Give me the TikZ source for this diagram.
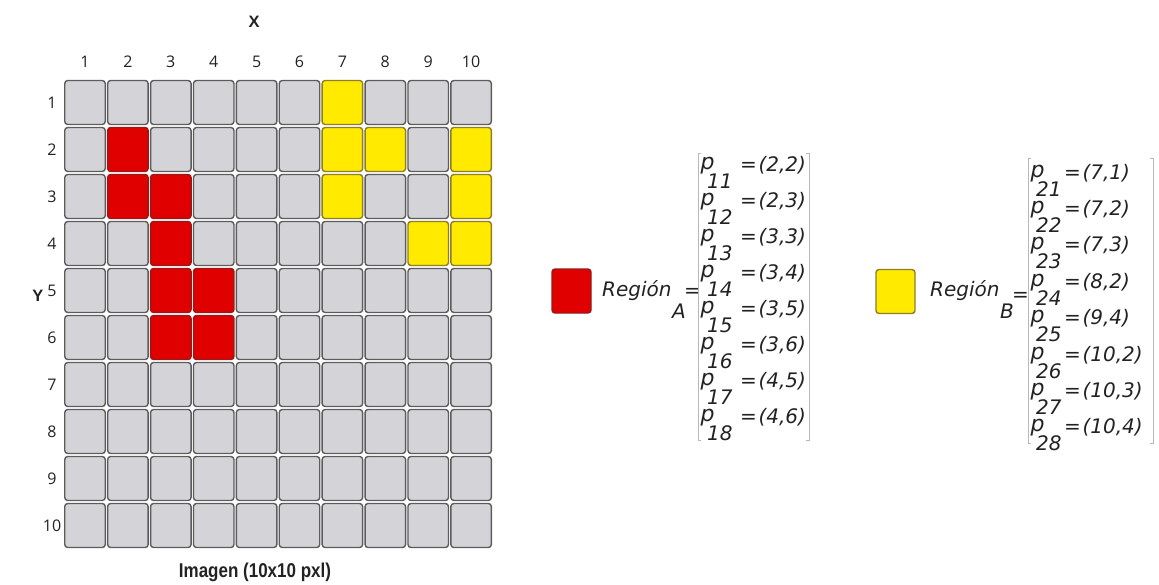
\documentclass[tikz,border=0pt]{standalone}
\usepackage{fontspec}
\setmainfont{Open Sans}
\newfontfamily\legfont{DejaVu Sans}
\newfontfamily\titlefont[FakeStretch=0.85]{Liberation Sans}
\newfontfamily\axfont{Liberation Sans}
\definecolor{cellgray}{HTML}{D4D4D8}
\definecolor{cellborder}{HTML}{5C5C5C}
\definecolor{cellred}{HTML}{E00000}
\definecolor{redborder}{HTML}{9A1818}
\definecolor{cellyellow}{HTML}{FFEA00}
\definecolor{yellowborder}{HTML}{8C7E2A}
\definecolor{bracketgray}{HTML}{B8B8B8}
\definecolor{txt}{HTML}{222222}
\tikzset{
  cell/.style={line width=1.4pt, rounded corners=3pt, minimum width=40.5pt, minimum height=44pt, inner sep=0pt},
  axlab/.style={font=\fontsize{16}{16}\selectfont, text=txt, inner sep=0pt},
  axletter/.style={font=\axfont\bfseries\fontsize{16.5}{16.5}\selectfont, text=txt, inner sep=0pt},
  axtitle/.style={font=\titlefont\bfseries\fontsize{20}{20}\selectfont, text=txt, inner sep=0pt},
  leg/.style={font=\legfont\itshape\fontsize{20}{20}\selectfont, text=txt, inner sep=0pt, anchor=base west},
  legp/.style={leg, font=\legfont\itshape\fontsize{22}{22}\selectfont},
  brk/.style={draw=bracketgray, line width=1pt},
}
\foreach \p in {2-2,2-3,3-3,3-4,3-5,3-6,4-5,4-6}{%
  \expandafter\xdef\csname cf-\p\endcsname{cellred}%
  \expandafter\xdef\csname cd-\p\endcsname{redborder}}
\foreach \p in {7-1,7-2,7-3,8-2,9-4,10-2,10-3,10-4}{%
  \expandafter\xdef\csname cf-\p\endcsname{cellyellow}%
  \expandafter\xdef\csname cd-\p\endcsname{yellowborder}}
\begin{document}
\begin{tikzpicture}[x=1pt,y=-1pt]
\useasboundingbox (0,0) rectangle (1159,584);
% grid
\foreach \c in {1,...,10}{\foreach \r in {1,...,10}{%
  \ifcsname cf-\c-\r\endcsname
    \edef\fc{\csname cf-\c-\r\endcsname}\edef\dc{\csname cd-\c-\r\endcsname}%
  \else
    \def\fc{cellgray}\def\dc{cellborder}%
  \fi
  \node[cell, fill=\fc, draw=\dc] (c-\c-\r) at ({85+(\c-1)*42.9},{102.5+(\r-1)*47}) {};
}}
% axis numbers
\foreach \c in {1,...,10}{\node[axlab] (xl-\c) at ({85+(\c-1)*42.9},62) {\c};}
\foreach \r in {1,...,10}{\node[axlab] (yl-\r) at (52,{102.5+(\r-1)*47}) {\r};}
\node[axletter] (X) at (254,22) {X};
\node[axletter] (Y) at (38,296) {Y};
\node[axtitle] (title) at (255,572) {Imagen (10x10 pxl)};
% legend A
\node[cell, fill=cellred, draw=redborder, minimum width=39pt] (keyA) at (571.5,291) {};
\node[leg] (regA) at (602,296) {Región};
\node[leg] (subA) at (672,318) {A};
\node[leg] (eqA) at (684,297) {=};
\draw[brk] (701,153) -- (698,153) -- (698,440) -- (701,440);
\draw[brk] (806,153) -- (809,153) -- (809,440) -- (806,440);
\foreach \s/\v [count=\i] in {11/{(2,2)},12/{(2,3)},13/{(3,3)},14/{(3,4)},15/{(3,5)},16/{(3,6)},17/{(4,5)},18/{(4,6)}}{%
  \node[legp] (pa-\i) at (700.5,{169+(\i-1)*36.1}) {p};
  \node[leg] (sa-\i) at (707,{188+(\i-1)*36.1}) {\s};
  \node[leg] (va-\i) at (740,{171+(\i-1)*36.1}) {=\hspace{0.08em}\v};
}
% legend B
\node[cell, fill=cellyellow, draw=yellowborder, minimum width=39pt] (keyB) at (895.5,291.5) {};
\node[leg] (regB) at (930,296) {Región};
\node[leg] (subB) at (1000,318) {B};
\node[leg] (eqB) at (1012,301) {=};
\draw[brk] (1031,158) -- (1028,158) -- (1028,443) -- (1031,443);
\draw[brk] (1150,158) -- (1153,158) -- (1153,443) -- (1150,443);
\foreach \s/\v [count=\i] in {21/{(7,1)},22/{(7,2)},23/{(7,3)},24/{(8,2)},25/{(9,4)},26/{(10,2)},27/{(10,3)},28/{(10,4)}}{%
  \node[legp] (pb-\i) at (1030.5,{177+(\i-1)*36.4}) {p};
  \node[leg] (sb-\i) at (1036,{196+(\i-1)*36.4}) {\s};
  \node[leg] (vb-\i) at (1064,{179+(\i-1)*36.4}) {=\hspace{0.08em}\v};
}
\end{tikzpicture}
\end{document}
